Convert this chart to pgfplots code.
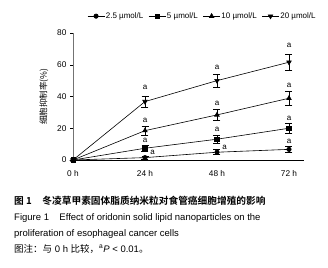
\documentclass[border=0pt]{standalone}
\usepackage{pgfplots}
\pgfplotsset{compat=1.18}
\usepackage{fontspec}
\setmainfont{Liberation Sans}
\newfontfamily\cjk{Noto Sans CJK SC}
\newfontfamily\cjkb{Noto Sans CJK SC Bold}
\begin{document}
\begin{tikzpicture}[x=1pt,y=1pt]
\path[use as bounding box] (0pt,0pt) rectangle (328pt,267pt);
\begin{axis}[
  at={(73pt,107pt)}, anchor=origin,
  scale only axis, width=231pt, height=127pt,
  xmin=0, xmax=77, ymin=0, ymax=80,
  axis x line*=bottom, axis y line*=left,
  x axis line style={line width=0.9pt, -},
  y axis line style={black!55, line width=0.8pt, -},
  xtick={0,24,48,72}, xticklabels={0 h,24 h,48 h,72 h},
  ytick={0,20,40,60,80},
  major x tick style={draw=none},
  ytick style={black, line width=0.5pt},
  tick align=outside, major tick length=3pt,
  tick label style={font=\fontsize{8.3}{9}\selectfont},
  /pgf/number format/assume math mode=true,
  xticklabel style={yshift=-4pt},
  ylabel={\cjk 细胞抑制率(\%)},
  ylabel style={font=\fontsize{8.5}{9}\selectfont, anchor=center, at={(axis description cs:-0.126,0.5)}},
  clip=false,
  legend columns=4,
  legend style={at={(axis description cs:-0.056,1.0)}, anchor=south west, xshift=27pt, yshift=12pt, draw=none, fill=none,
    font=\fontsize{8}{9}\selectfont, column sep=0pt, inner sep=0pt,
    nodes={inner sep=1pt},
    /tikz/every even column/.append style={column sep=4pt}},
  legend image code/.code={\draw[#1, mark repeat=2, mark phase=2] plot coordinates {(0pt,0pt) (8.5pt,0pt) (17pt,0pt)};},
  error bars/y dir=both, error bars/y explicit,
  error bars/error mark options={rotate=90, mark size=3.5pt, line width=0.7pt, black},
  error bars/error bar style={line width=0.7pt, black},
]
\addplot[black, line width=0.6pt, mark=*, mark size=2.2pt, mark options={fill=black, solid}] coordinates {(0,0) +- (0,0) (24,1.5) +- (0,1) (48,4.9) +- (0,1.5) (72,6.7) +- (0,2)};
\addlegendentry{2.5 µmol/L}
\addplot[black, line width=0.6pt, mark=square*, mark size=2.2pt, mark options={fill=black, solid}] coordinates {(0,0) +- (0,0) (24,7.4) +- (0,2) (48,13.1) +- (0,2.5) (72,20) +- (0,3)};
\addlegendentry{5 µmol/L}
\addplot[black, line width=0.6pt, mark=triangle*, mark size=2.6pt, mark options={fill=black, solid}] coordinates {(0,0) +- (0,0) (24,18.5) +- (0,3) (48,28.4) +- (0,3.7) (72,38.9) +- (0,4.5)};
\addlegendentry{10 µmol/L}
\addplot[black, line width=0.6pt, mark=triangle*, mark size=2.6pt, mark options={fill=black, rotate=180, solid}] coordinates {(0,0) +- (0,0) (24,36.8) +- (0,3.5) (48,50) +- (0,4) (72,61.6) +- (0,5)};
\addlegendentry{20 µmol/L}
\begin{scope}[every node/.style={font=\fontsize{8}{8}\selectfont, inner sep=0pt}]
\node at (axis cs:26.5,4.5) {a};
\node at (axis cs:50.5,8) {a};
\node at (axis cs:72,12) {a};
\node at (axis cs:24,12.5) {a};
\node at (axis cs:48,19) {a};
\node at (axis cs:72,26.5) {a};
\node at (axis cs:24,25) {a};
\node at (axis cs:48,35.5) {a};
\node at (axis cs:72,47) {a};
\node at (axis cs:24,46) {a};
\node at (axis cs:48,58.5) {a};
\node at (axis cs:72,72) {a};
\end{scope}
\end{axis}
\begin{scope}[every node/.style={anchor=base west, inner sep=0pt, font=\fontsize{9.5}{10}\selectfont}]
\node at (14pt,62pt) {\fontsize{9.7}{10}\cjkb 图 1\hspace{1.1em}冬凌草甲素固体脂质纳米粒对食管癌细胞增殖的影响};
\node at (14pt,47pt) {Figure 1\hspace{1.1em}Effect of oridonin solid lipid nanoparticles on the};
\node at (14pt,31pt) {proliferation of esophageal cancer cells};
\node at (14pt,15pt) {{\cjk 图注：与} 0 h {\cjk 比较，}$^{\mathrm{a}}$\textit{P} \textless{} 0.01{\cjk 。}};
\end{scope}
\end{tikzpicture}
\end{document}
